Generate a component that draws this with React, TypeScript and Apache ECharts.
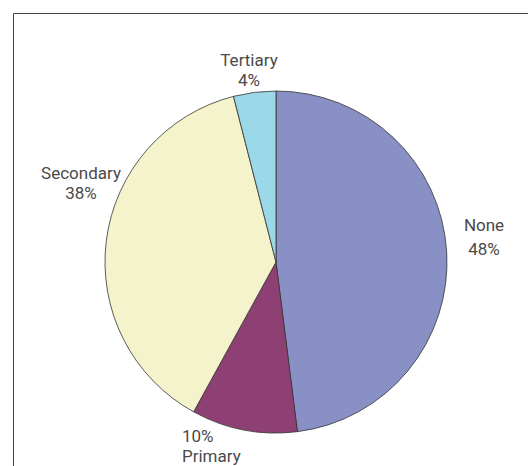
import React, { useEffect, useRef } from "react";
import * as echarts from "echarts";

const categories = ["None", "Primary", "Secondary", "Tertiary"];
const percents = [48, 10, 38, 4];

const colors = ["#8890C5", "#8E4075", "#F5F3CB", "#9BD8E8"];
const labelLineHeights = [24, 20, 20, 20];
// label anchor placements (layout only)
const labelPlace = [
  { x: 484, y: 237, align: "center" },
  { x: 182, y: 446, align: "left" },
  { x: 81, y: 183, align: "center" },
  { x: 249, y: 70, align: "center" },
];

export default function App() {
  const ref = useRef<HTMLDivElement>(null);
  useEffect(() => {
    if (!ref.current) return;
    const chart = echarts.init(ref.current, undefined, { renderer: "svg" });
    chart.setOption({
      animation: false,
      backgroundColor: "#ffffff",
      graphic: [
        {
          type: "rect",
          shape: { x: 13.5, y: 13.5, width: 700, height: 700 },
          style: { fill: "none", stroke: "#444444", lineWidth: 1 },
          silent: true,
        },
      ],
      series: [
        {
          type: "pie",
          center: [276, 262],
          radius: 171,
          startAngle: 90,
          clockwise: true,
          avoidLabelOverlap: false,
          itemStyle: { borderColor: "#333333", borderWidth: 0.8 },
          label: {
            show: true,
            position: "outside",
            fontFamily: "Roboto",
            fontSize: 17,
            color: "#4a4a4a",
            formatter: (p: any) =>
              p.name === "Primary" ? `${p.value}%\n${p.name}` : `${p.name}\n${p.value}%`,
          },
          labelLine: { show: false },
          labelLayout: (params: any) => {
            const pl = labelPlace[params.dataIndex];
            return { x: pl.x, y: pl.y, align: pl.align, verticalAlign: "middle" };
          },
          data: categories.map((c, i) => ({
            name: c,
            value: percents[i],
            itemStyle: { color: colors[i] },
            label: { lineHeight: labelLineHeights[i], align: labelPlace[i].align },
          })),
        },
      ],
    });
    return () => chart.dispose();
  }, []);
  return (
    <div
      ref={ref}
      style={{ position: "absolute", left: 0, top: 0, width: 528, height: 466 }}
    />
  );
}
